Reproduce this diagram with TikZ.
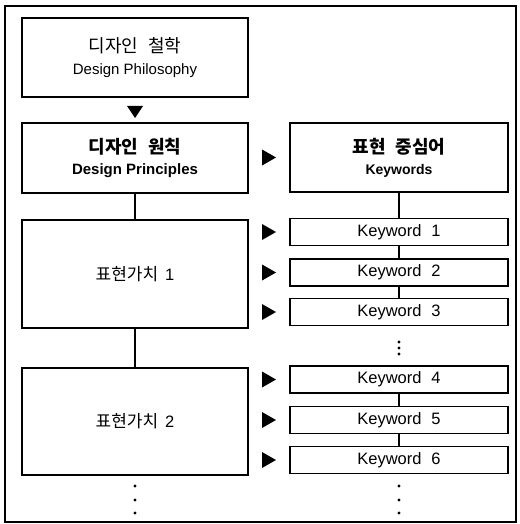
\documentclass[tikz,border=0pt]{standalone}
\usepackage{fontspec}
\setmainfont{Liberation Sans}
\newfontfamily\kr{Noto Sans CJK KR}
\usepackage{tikz}
\usetikzlibrary{calc}
\newcommand{\boxline}{1.2pt}
\newcommand{\leftx}{135}
\newcommand{\rightx}{399}
\newcommand{\fs}[1]{\fontsize{#1}{#1}\selectfont}
\newcommand{\gap}{\hspace{0.55em}}

\begin{document}
\begin{tikzpicture}[x=1pt, y=-1pt,
        box/.style={draw, line width=\boxline, inner sep=0pt, align=center},
        bigbox/.style={box, minimum width=226pt},
        kwbox/.style={box, minimum width=218pt, minimum height=27pt, font=\fs{16.5}},
        link/.style={line width=\boxline}]

    \useasboundingbox (0,0) rectangle (519,524);
    \draw[line width=1.3pt] (5,6) rectangle (516,522);

    % left column
    \node[bigbox, minimum height=79pt] (phil) at (\leftx,57.5)
        {{\kr\fs{18}디자인\gap 철학}\\[9pt]{\fs{15}Design\ Philosophy}};
    \node[bigbox, minimum height=70pt] (prin) at (\leftx,158)
        {{\kr\bfseries\fs{18}디자인\gap 원칙}\\[8pt]{\bfseries\fs{15}Design\ Principles}};
    \node[bigbox, minimum height=108pt] (val1) at (\leftx,274)
        {{\kr\fs{17}표현가치}\hspace{0.7em}{\fs{16.5}1}};
    \node[bigbox, minimum height=107pt] (val2) at (\leftx,421.5)
        {{\kr\fs{17}표현가치}\hspace{0.7em}{\fs{16.5}2}};

    % right column
    \node[box, minimum width=218pt, minimum height=69pt] (head) at (\rightx,157.5)
        {{\kr\bfseries\fs{18}표현\gap 중심어}\\[9pt]{\bfseries\fs{14}Keywords}};
    \foreach \i/\y in {1/232,2/272.5,3/312,4/379.5,5/420,6/460} {
        \node[kwbox] (kw\i) at (\rightx,\y) {Keyword\hspace{0.6em}\i};
    }

    \draw[link] (prin) -- (val1);
    \draw[link] (val1) -- (val2);
    \draw[link] (head) -- (kw1);
    \foreach \a/\b in {1/2,2/3,4/5,5/6} {
        \draw[link] (kw\a) -- (kw\b);
    }

    % arrow heads
    \fill (\leftx,112) ++(-8,-6) -- ++(16,0) -- ++(-8,12) -- cycle;
    \foreach \y in {157.5,232,272.5,312,379.5,420,460} {
        \fill (262,\y) ++(0,-8) -- ++(14,8) -- ++(-14,8) -- cycle;
    }

    % dots
    \foreach \y in {342,348,354} {
        \fill (\rightx,\y) circle (1.6);
    }
    \foreach \y in {486,500,513} {
        \fill (\leftx,\y) circle (1.6);
        \fill (\rightx,\y) circle (1.6);
    }
\end{tikzpicture}
\end{document}
